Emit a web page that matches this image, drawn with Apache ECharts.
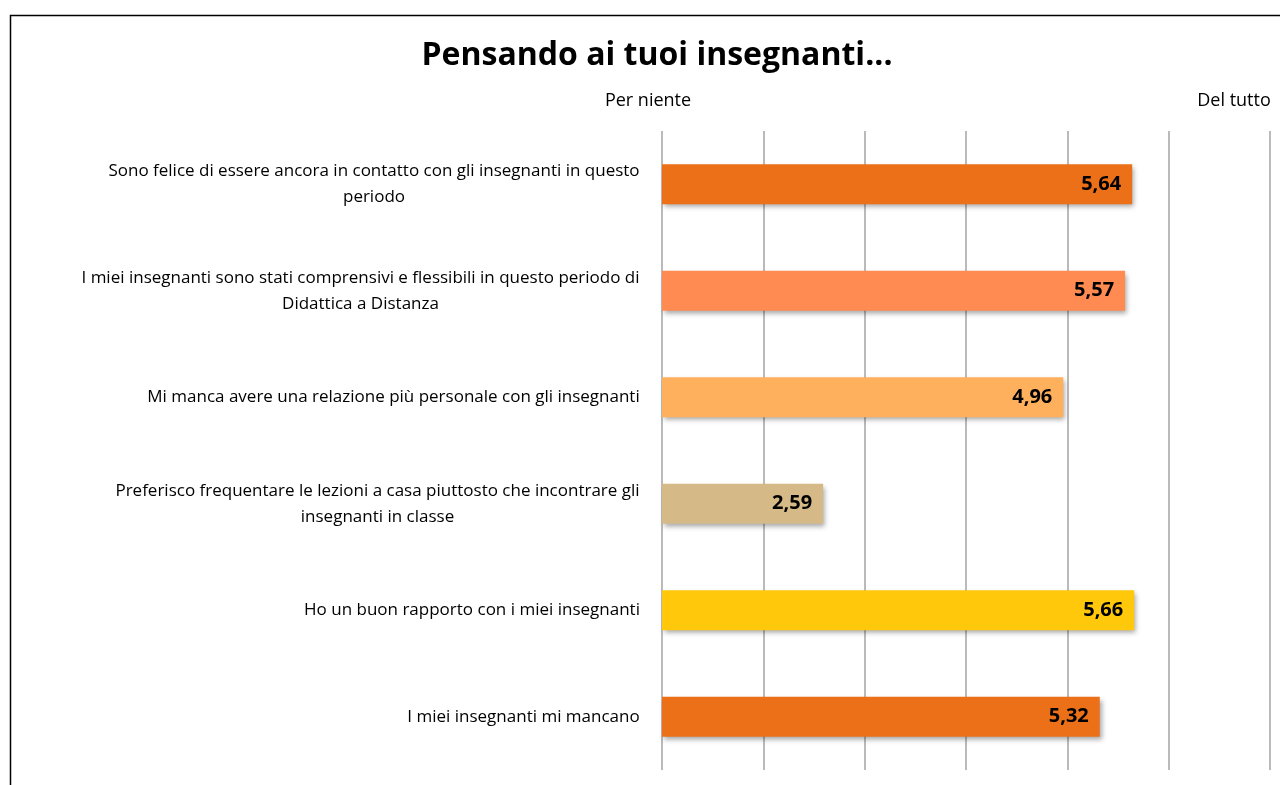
<!DOCTYPE html>
<html>
<head>
<meta charset="utf-8">
<script src="https://cdn.jsdelivr.net/npm/echarts@6/dist/echarts.min.js"></script>
<style>
  html, body { margin: 0; padding: 0; background: #fff; overflow: hidden; }
  #chart { width: 1280px; height: 785px; }
</style>
</head>
<body>
<div id="chart"></div>
<script>
const categories = [
  "Sono felice di essere ancora in contatto con gli insegnanti in questo\nperiodo",
  "I miei insegnanti sono stati comprensivi e flessibili in questo periodo di\nDidattica a Distanza",
  "Mi manca avere una relazione più personale con gli insegnanti",
  "Preferisco frequentare le lezioni a casa piuttosto che incontrare gli\ninsegnanti in classe",
  "Ho un buon rapporto con i miei insegnanti",
  "I miei insegnanti mi mancano"
];
const values = [5.64, 5.57, 4.96, 2.59, 5.66, 5.32];
const barColors = ["#EB7017", "#FF8B53", "#FFB05D", "#D5BA87", "#FFC80B", "#EB7017"];
const scaleMin = 1;
const scaleMax = 7;
const scaleLabels = ["Per niente", "Del tutto"];

const fontName = "Open Sans";
const labelSize = 17;

// width of the widest line, so multi-line labels are centred inside their block
const ctx = document.createElement("canvas").getContext("2d");
ctx.font = labelSize + "px '" + fontName + "'";
function blockWidth(text) {
  return Math.ceil(Math.max(...text.split("\n").map(l => ctx.measureText(l).width)));
}

const chart = echarts.init(document.getElementById("chart"));

chart.setOption({
  animation: false,
  textStyle: { fontFamily: fontName },
  title: {
    text: "Pensando ai tuoi insegnanti...",
    left: 652,
    top: 35,
    textAlign: "center",
    textStyle: { fontSize: 32, fontWeight: "bold", color: "#000", fontFamily: fontName }
  },
  graphic: [
    {
      type: "rect",
      shape: { x: 10.5, y: 15.5, width: 1400, height: 900 },
      style: { fill: "none", stroke: "#000", lineWidth: 1.5 },
      silent: true
    },
    {
      type: "text",
      x: 648,
      y: 101,
      style: { text: scaleLabels[0], font: "18px 'Open Sans'", fill: "#000", align: "center", verticalAlign: "middle" }
    },
    {
      type: "text",
      x: 1234,
      y: 101,
      style: { text: scaleLabels[1], font: "18px 'Open Sans'", fill: "#000", align: "center", verticalAlign: "middle" }
    }
  ],
  grid: { left: 662, right: 10, top: 131, bottom: 15, containLabel: false },
  xAxis: {
    type: "value",
    min: scaleMin,
    max: scaleMax,
    interval: 1,
    axisLabel: { show: false },
    axisLine: { show: false },
    axisTick: { show: false },
    splitLine: { show: true, lineStyle: { color: "#a3a3a3", width: 1.5 } }
  },
  yAxis: {
    type: "category",
    inverse: true,
    data: categories,
    axisLine: { show: false },
    axisTick: { show: false },
    axisLabel: {
      margin: 22,
      formatter: v => {
        const w = blockWidth(v);
        return v.split("\n").map(l => "{c" + w + "|" + l + "}").join("\n");
      },
      rich: Object.fromEntries(categories.map(c => {
        const w = blockWidth(c);
        return ["c" + w, { width: w, align: "center", fontSize: labelSize, fontFamily: fontName, color: "#000", lineHeight: 26 }];
      }))
    }
  },
  series: [
    {
      type: "bar",
      barWidth: 40,
      data: values.map((v, i) => ({ value: v, itemStyle: { color: barColors[i] } })),
      itemStyle: {
        shadowColor: "rgba(0,0,0,0.35)",
        shadowBlur: 5,
        shadowOffsetX: 2,
        shadowOffsetY: 3
      },
      label: {
        show: true,
        position: "insideRight",
        distance: 11,
        formatter: p => p.value.toFixed(2).replace(".", ","),
        fontFamily: fontName,
        fontSize: 20,
        fontWeight: "bold",
        color: "#000"
      }
    }
  ]
});
</script>
</body>
</html>
